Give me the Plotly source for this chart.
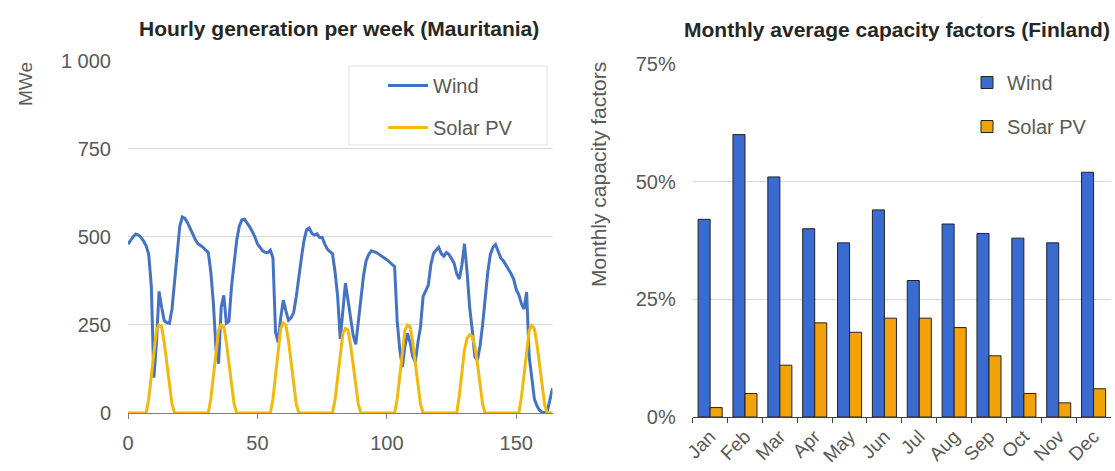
"""
Two-panel chart: hourly wind / solar generation (Mauritania) and
monthly average capacity factors (Finland).
"""
import plotly.graph_objects as go

W, H = 1115, 471

# ---- left panel data: one value per hour of the week (MWe) ----
hours = list(range(165))

wind_mwe = [
    479, 490, 500, 508, 505, 498, 488, 474, 450, 360, 100, 200, 345, 300, 262, 256, 254, 295, 380, 455, 530, 556, 552, 540,
    522, 508, 492, 480, 475, 470, 462, 456, 400, 310, 180, 140, 300, 334, 255, 260, 360, 420, 490, 530, 548, 550, 540, 528,
    515, 500, 480, 470, 460, 456, 455, 462, 440, 230, 200, 270, 320, 290, 263, 270, 285, 330, 390, 440, 490, 520, 525, 510,
    505, 508, 498, 498, 480, 465, 458, 452, 400, 330, 210, 290, 368, 320, 265, 220, 195, 260, 320, 390, 432, 450, 460, 458,
    455, 450, 446, 440, 435, 428, 422, 415, 260, 180, 130, 190, 226, 200, 160, 145, 200, 244, 330, 348, 362, 420, 452, 462,
    470, 452, 445, 455, 450, 438, 425, 395, 380, 420, 480, 400, 300, 235, 160, 150, 190, 250, 330, 400, 450, 470, 478, 460,
    440, 432, 420, 410, 395, 380, 350, 335, 310, 295, 343, 160, 90, 40, 20, 8, 2, 0, 5, 40, 70,
]

solar_mwe = [
    0, 0, 0, 0, 0, 0, 0, 0, 40, 110, 180, 235, 250, 245, 200, 140, 80, 25, 0, 0, 0, 0, 0, 0,
    0, 0, 0, 0, 0, 0, 0, 0, 40, 110, 180, 235, 250, 245, 200, 140, 80, 25, 0, 0, 0, 0, 0, 0,
    0, 0, 0, 0, 0, 0, 0, 0, 40, 112, 185, 240, 255, 250, 205, 143, 82, 25, 0, 0, 0, 0, 0, 0,
    0, 0, 0, 0, 0, 0, 0, 0, 38, 105, 172, 225, 240, 235, 192, 135, 77, 24, 0, 0, 0, 0, 0, 0,
    0, 0, 0, 0, 0, 0, 0, 0, 40, 110, 180, 235, 250, 245, 200, 140, 80, 25, 0, 0, 0, 0, 0, 0,
    0, 0, 0, 0, 0, 0, 0, 0, 50, 120, 180, 212, 222, 218, 190, 140, 80, 25, 0, 0, 0, 0, 0, 0,
    0, 0, 0, 0, 0, 0, 0, 0, 45, 115, 185, 235, 248, 240, 195, 135, 75, 22, 0, 0, 0,
]

# ---- right panel data: monthly capacity factors (%) ----
months = ["Jan", "Feb", "Mar", "Apr", "May", "Jun",
          "Jul", "Aug", "Sep", "Oct", "Nov", "Dec"]
wind_cf = [42, 60, 51, 40, 37, 44, 29, 41, 39, 38, 37, 52]
solar_cf = [2, 5, 11, 20, 18, 21, 21, 19, 13, 5, 3, 6]
cf_ticks = [0, 25, 50, 75]
cf_labels = ["0%", "25%", "50%", "75%"]

FONT = "Liberation Sans, Arial, sans-serif"
GRID = "#d9d9d9"
TXT = "#595959"


def px_x(v):
    return v / W


def px_y(v):
    return 1 - v / H


fig = go.Figure()

fig.add_trace(go.Scatter(
    x=hours, y=wind_mwe, name="Wind", mode="lines",
    line=dict(color="#4472C4", width=3),
    legend="legend", legendgroup="w",
))
fig.add_trace(go.Scatter(
    x=hours, y=solar_mwe, name="Solar PV", mode="lines",
    line=dict(color="#F2B90C", width=3),
    legend="legend", legendgroup="s",
))

fig.add_trace(go.Bar(
    x=months, y=wind_cf, name="Wind", xaxis="x2", yaxis="y2",
    marker=dict(color="#3A6BD0", line=dict(color="#222222", width=1)),
    legend="legend2", legendgroup="bw",
))
fig.add_trace(go.Bar(
    x=months, y=solar_cf, name="Solar PV", xaxis="x2", yaxis="y2",
    marker=dict(color="#F4A20C", line=dict(color="#222222", width=1)),
    legend="legend2", legendgroup="bs",
))

fig.update_layout(
    width=W, height=H,
    margin=dict(l=0, r=0, t=0, b=0, autoexpand=False),
    paper_bgcolor="white",
    plot_bgcolor="rgba(0,0,0,0)",
    font=dict(family=FONT, size=20, color=TXT),
    separators=". ",
    barmode="group",
    bargap=0.31,
    bargroupgap=0,
    xaxis=dict(
        domain=[px_x(128), px_x(552.5)], anchor="y", automargin=False,
        range=[0, 164], tickvals=[0, 50, 100, 150],
        showgrid=False, zeroline=False,
        showline=True, linecolor="#7f7f7f", linewidth=1,
        ticks="outside", ticklen=5, tickcolor="#7f7f7f",
        ticklabelstandoff=7, layer="below traces",
    ),
    yaxis=dict(
        domain=[px_y(413), px_y(60.5)], anchor="x", automargin=False,
        range=[0, 1000], tickvals=[0, 250, 500, 750, 1000], tickformat=",d",
        showgrid=True, gridcolor=GRID, zeroline=False, showline=False,
        ticklabelstandoff=16,
    ),
    xaxis2=dict(
        domain=[px_x(692.7), px_x(1111)], anchor="y2", automargin=False,
        type="category", tickangle=-45,
        showgrid=False, zeroline=False,
        showline=True, linecolor="#404040", linewidth=1,
        ticks="outside", tickson="boundaries", ticklen=5, tickcolor="#404040",
        tickfont=dict(size=19),
    ),
    yaxis2=dict(
        domain=[px_y(417), px_y(64)], anchor="x2", automargin=False,
        range=[0, 75], tickvals=cf_ticks, ticktext=cf_labels,
        showgrid=True, gridcolor=GRID, zeroline=False, showline=False,
        ticklabelstandoff=16,
    ),
    legend=dict(
        x=px_x(383), y=px_y(66), xanchor="left", yanchor="top",
        bgcolor="rgba(0,0,0,0)", borderwidth=0,
        font=dict(size=20, color=TXT), tracegroupgap=13, itemwidth=40,
    ),
    legend2=dict(
        x=px_x(967), y=px_y(63), xanchor="left", yanchor="top",
        bgcolor="rgba(0,0,0,0)", borderwidth=0,
        font=dict(size=20, color=TXT), tracegroupgap=15,
    ),
    shapes=[dict(
        type="rect", xref="paper", yref="paper",
        x0=px_x(349), x1=px_x(547), y0=px_y(145), y1=px_y(66),
        line=dict(color="#e3e3e3", width=1), fillcolor="rgba(0,0,0,0)",
    )],
    annotations=[
        dict(text="<b>Hourly generation per week (Mauritania)</b>",
             x=px_x(338.5), y=px_y(29), xref="paper", yref="paper",
             xanchor="center", yanchor="middle", showarrow=False,
             font=dict(size=21, color="#262626")),
        dict(text="<b>Monthly average capacity factors (Finland)</b>",
             x=px_x(897), y=px_y(30), xref="paper", yref="paper",
             xanchor="center", yanchor="middle", showarrow=False,
             font=dict(size=21, color="#262626")),
        dict(text="MWe", textangle=-90,
             x=px_x(26), y=px_y(84), xref="paper", yref="paper",
             xanchor="center", yanchor="middle", showarrow=False,
             font=dict(size=19, color=TXT)),
        dict(text="Monthly capacity factors", textangle=-90,
             x=px_x(599), y=px_y(175), xref="paper", yref="paper",
             xanchor="center", yanchor="middle", showarrow=False,
             font=dict(size=21, color=TXT)),
    ],
)

# the default page keeps an 8px body margin; drop it so pixels line up
fig.write_html(
    "out.html",
    config={"displayModeBar": False},
    post_script="document.body.style.margin='0';",
)
